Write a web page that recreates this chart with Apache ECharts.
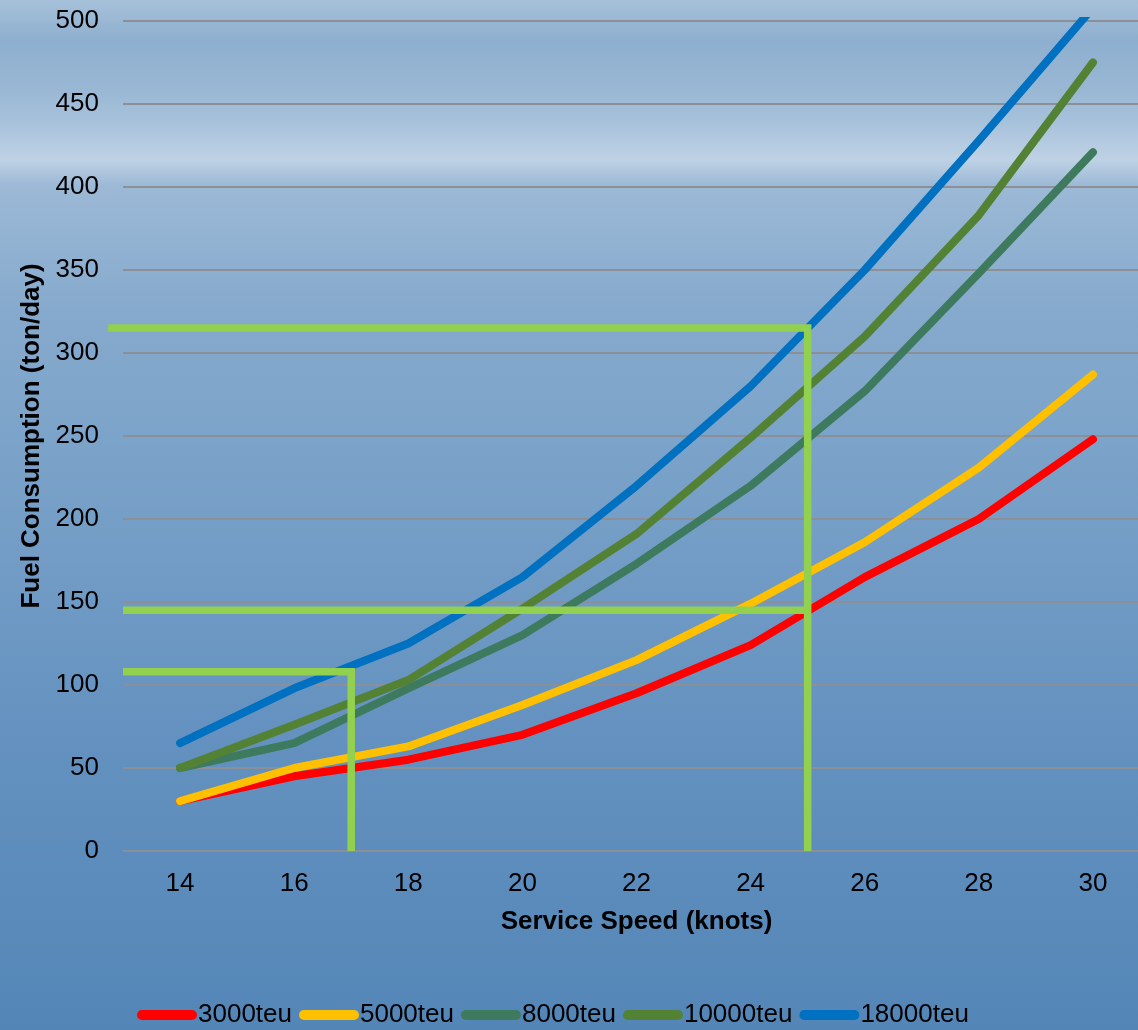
<!DOCTYPE html>
<html style="height: 100%">
<head>
<meta charset="utf-8">
</head>
<body style="height: 100%; margin: 0; overflow: hidden">
<div id="container" style="width: 1160px; height: 1030px"></div>
<script type="text/javascript" src="https://cdn.jsdelivr.net/npm/echarts@6/dist/echarts.min.js"></script>
<script type="text/javascript">
// service speed (knots) and fuel consumption (ton/day) per ship size
var speeds = [14, 16, 18, 20, 22, 24, 26, 28, 30];
var names = ['3000teu', '5000teu', '8000teu', '10000teu', '18000teu'];
var fuel3000 = [30, 45, 55, 70, 95, 124, 165, 200, 248];
var fuel5000 = [30, 50, 63, 88, 115, 149, 186, 231, 287];
var fuel8000 = [50, 65, 98, 130, 173, 220, 277, 348, 421];
var fuel10000 = [50, 76, 103, 146, 191, 249, 310, 383, 475];
var fuel18000 = [65, 98, 125, 165, 220, 280, 350, 428, 508];
var colors = ['#ff0000', '#ffc000', '#3e7a5d', '#548235', '#0070c0'];

// green read-off guides [speed, fuel]
var guide25top = [[12.74, 315], [25, 315], [25, 0]];
var guide25low = [[13, 145], [25, 145]];
var guide17 = [[13, 108], [17, 108], [17, 0]];

var font = 'Liberation Sans, Arial, sans-serif';

function pairs(vals) {
    return speeds.map(function (s, i) { return [s, vals[i]]; });
}

var dom = document.getElementById('container');
var myChart = echarts.init(dom);

var fuelSeries = [fuel3000, fuel5000, fuel8000, fuel10000, fuel18000].map(function (vals, i) {
    return {
        name: names[i],
        type: 'line',
        data: pairs(vals),
        showSymbol: false,
        symbol: 'none',
        lineStyle: {width: 8, color: colors[i], cap: 'round', join: 'round'},
        itemStyle: {color: colors[i]},
        z: 3
    };
});

// guides are plain polylines on a custom series so they can run past the grid edge
var guideStyle = {width: 7.5, color: '#92d050', cap: 'butt', join: 'miter'};
var guides = [guide25top, guide25low, guide17].map(function (d) {
    return {
        type: 'custom',
        data: [0],
        silent: true,
        clip: false,
        z: 5,
        renderItem: function (params, api) {
            return {
                type: 'polyline',
                shape: {points: d.map(function (p) { return api.coord(p); })},
                style: {stroke: guideStyle.color, lineWidth: guideStyle.width, fill: null, lineCap: 'butt', lineJoin: 'miter'}
            };
        }
    };
});

var option = {
    animation: false,
    backgroundColor: {
        type: 'linear', x: 0, y: 0, x2: 0, y2: 1,
        colorStops: [
            {offset: 0, color: '#a6c0d9'},
            {offset: 0.04, color: '#8eafcf'},
            {offset: 0.09, color: '#9ab8d4'},
            {offset: 0.12, color: '#a8c2dc'},
            {offset: 0.155, color: '#bfd2e5'},
            {offset: 0.18, color: '#9cb9d6'},
            {offset: 0.3, color: '#86aacd'},
            {offset: 0.5, color: '#769fc7'},
            {offset: 0.7, color: '#6592c0'},
            {offset: 1, color: '#5386b7'}
        ]
    },
    textStyle: {fontFamily: font},
    grid: {left: 123, right: 10, top: 21, bottom: 179, containLabel: false},
    legend: {
        data: names.map(function (n) { return {name: n, icon: 'path://M5,0 L55,0 A5,5 0 0 1 55,10 L5,10 A5,5 0 0 1 5,0 Z'}; }),
        left: 132,
        top: 997,
        itemWidth: 60,
        itemHeight: 11,
        itemGap: 7,
        textStyle: {fontSize: 26, color: '#000', fontFamily: font, padding: [0, 0, 0, -4]}
    },
    xAxis: {
        type: 'value',
        min: 13,
        max: 31,
        interval: 1,
        name: 'Service Speed (knots)',
        nameLocation: 'middle',
        nameGap: 58,
        nameTextStyle: {fontSize: 26, fontWeight: 'bold', color: '#000', fontFamily: font},
        axisLine: {show: false},
        axisTick: {show: false},
        splitLine: {show: false},
        axisLabel: {
            fontSize: 26,
            color: '#000',
            margin: 20,
            fontFamily: font,
            formatter: function (v) { return (v % 2 === 0 && v > 13 && v < 31) ? String(v) : ''; }
        }
    },
    yAxis: {
        type: 'value',
        min: 0,
        max: 500,
        interval: 50,
        name: 'Fuel Consumption (ton/day)',
        nameLocation: 'middle',
        nameGap: 76,
        nameTextStyle: {fontSize: 26, fontWeight: 'bold', color: '#000', fontFamily: font},
        axisLine: {show: false},
        axisTick: {show: false},
        axisLabel: {fontSize: 26, color: '#000', margin: 24, fontFamily: font},
        splitLine: {show: true, lineStyle: {color: '#8c9096', width: 2}}
    },
    series: fuelSeries.concat(guides)
};

myChart.setOption(option, true);
</script>
</body>
</html>
